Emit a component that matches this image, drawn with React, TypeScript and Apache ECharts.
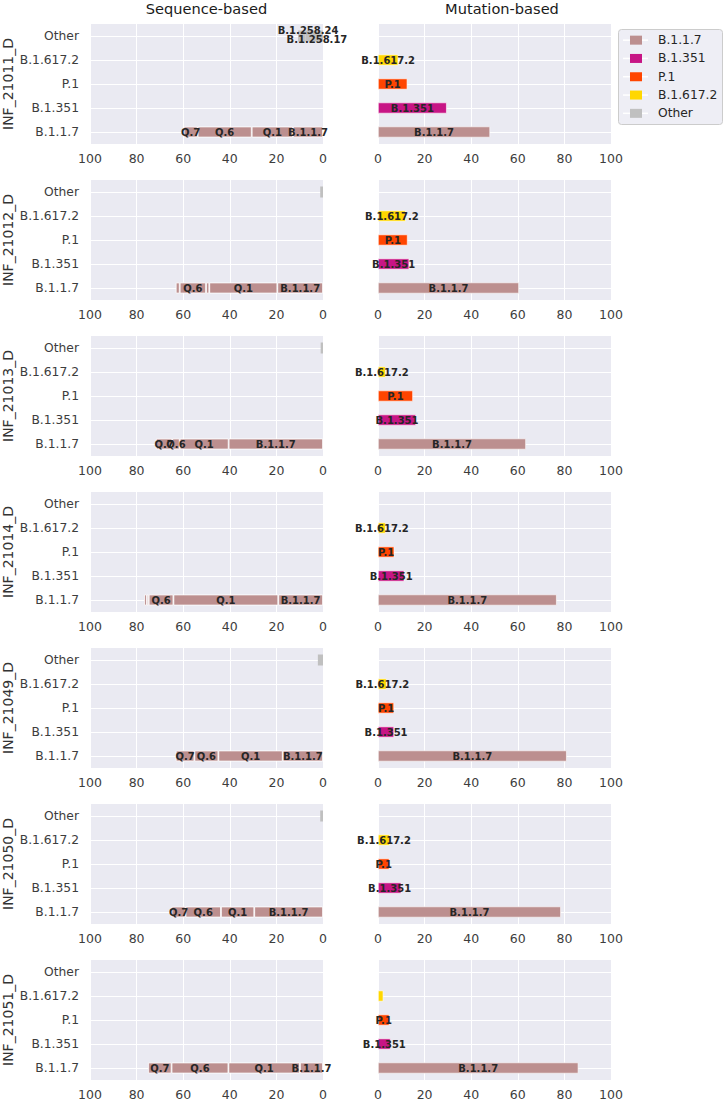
import React, { useEffect, useRef } from 'react';
import * as echarts from 'echarts';

// ---------- data ----------
const panelIds = ['INF_21011_D', 'INF_21012_D', 'INF_21013_D', 'INF_21014_D', 'INF_21049_D', 'INF_21050_D', 'INF_21051_D'];
const lineages = ['B.1.1.7', 'B.1.351', 'P.1', 'B.1.617.2', 'Other'];
const titles = ['Sequence-based', 'Mutation-based'];

// Mutation-based percentages per panel
const mutB117 = [48.1, 60.5, 63.5, 76.7, 81.0, 78.5, 86.0];
const mutB1351 = [29.5, 13.4, 16.3, 11.3, 6.9, 10.0, 5.4];
const mutP1 = [12.6, 12.7, 15.0, 7.0, 6.9, 4.9, 4.9];
const mutB16172 = [8.7, 11.9, 3.3, 3.3, 3.7, 5.1, 2.3];
const mutOther = [0, 0, 0, 0, 0, 0, 0];

// Sequence-based segments on the B.1.1.7 row, [sub-lineage, percent], '' = too small to label
const seqB117Rows: [string, number][][] = [
  [['B.1.1.7', 12.9], ['Q.1', 17.7], ['Q.6', 23.2], ['Q.7', 6.0]],
  [['B.1.1.7', 19.6], ['Q.1', 29.2], ['', 1.4], ['Q.6', 11.3], ['', 1.7]],
  [['B.1.1.7', 40.5], ['Q.1', 21.0], ['Q.6', 3.2], ['Q.7', 7.0]],
  [['B.1.1.7', 19.2], ['Q.1', 45.0], ['Q.6', 10.6], ['', 0.8], ['', 1.2]],
  [['B.1.1.7', 17.3], ['Q.1', 27.6], ['Q.6', 10.3], ['Q.7', 8.0]],
  [['B.1.1.7', 29.5], ['Q.1', 14.3], ['Q.6', 15.2], ['Q.7', 6.0]],
  [['B.1.1.7', 9.9], ['Q.1', 30.7], ['Q.6', 24.4], ['Q.7', 10.1]],
];
// Sequence-based segments on the Other row
const seqOtherRows: [string, number][][] = [
  [['B.1.258.17', 5.2], ['B.1.258.24', 2.4], ['', 3.1]],
  [['', 1.2]],
  [['', 1.0]],
  [],
  [['', 2.2]],
  [['', 1.2]],
  [],
];

// ---------- styles ----------
const FONT = 'DejaVu Sans';
const colorOf: Record<string, string> = {
  'B.1.1.7': '#BC8F8F',
  'B.1.351': '#C71585',
  'P.1': '#FF4500',
  'B.1.617.2': '#FFD700',
  Other: '#C0C0C0',
};
const labelOffsets: Record<string, number[]> = {
  'B.1.258.17': [0, 3.5],
  'B.1.258.24': [0, -5.5],
};
const LABEL_MIN = 3;
const GRID_TOP0 = 24;
const GRID_PITCH = 156;
const GRID_H = 120;
const GRID_W = 233;
const LEFT_X = 90;
const RIGHT_X = 378;

function buildOption() {
  const grid: any[] = [];
  const xAxis: any[] = [];
  const yAxis: any[] = [];
  const series: any[] = [];

  const labelStyle = {
    position: 'inside',
    color: '#262626',
    fontSize: 10,
    fontWeight: 'bold',
    fontFamily: FONT,
  };
  const markLine = {
    silent: true,
    symbol: 'none',
    z: 1,
    label: { show: false },
    lineStyle: { color: '#ffffff', width: 1, type: 'solid' },
    emphasis: { disabled: true },
    data: lineages.map((c) => ({ yAxis: c })),
  };

  panelIds.forEach((pid, p) => {
    const top = GRID_TOP0 + GRID_PITCH * p;
    [0, 1].forEach((side) => {
      const gi = p * 2 + side;
      const isLeft = side === 0;
      grid.push({
        left: isLeft ? LEFT_X : RIGHT_X,
        top,
        width: GRID_W,
        height: GRID_H,
        show: true,
        backgroundColor: '#EAEAF2',
        borderWidth: 0,
      });
      xAxis.push({
        gridIndex: gi,
        type: 'value',
        min: 0,
        max: 100,
        interval: 20,
        inverse: isLeft,
        axisLine: { show: false },
        axisTick: { show: false },
        splitLine: { show: true, lineStyle: { color: '#ffffff', width: 1 } },
        axisLabel: {
          fontSize: 12.5,
          color: '#3d3d3d',
          margin: 8,
          fontFamily: FONT,
          showMinLabel: true,
          showMaxLabel: true,
        },
      });
      yAxis.push({
        gridIndex: gi,
        type: 'category',
        data: lineages,
        axisLine: { show: false },
        axisTick: { show: false },
        splitLine: { show: false },
        axisLabel: { show: isLeft, interval: 0, fontSize: 12.3, color: '#3d3d3d', margin: 11, fontFamily: FONT },
        name: isLeft ? pid : '',
        nameLocation: 'middle',
        nameRotate: 90,
        nameGap: 75,
        nameTextStyle: { fontSize: 14, color: '#333333', fontFamily: FONT },
      });
    });

    // left: sequence-based stacked segments
    const gl = p * 2;
    let first = true;
    const addSeg = (row: string, seg: [string, number]) => {
      const [nm, w] = seg;
      const s: any = {
        type: 'bar',
        name: nm || 'minor',
        xAxisIndex: gl,
        yAxisIndex: gl,
        stack: 'seq' + p,
        barWidth: 11,
        data: lineages.map((c) => (c === row ? w : '-')),
        itemStyle: {
          color: colorOf[row],
          borderColor: '#ffffff',
          borderWidth: row === 'Other' ? 0 : 0.8,
        },
        label: {
          ...labelStyle,
          show: nm !== '',
          formatter: () => nm,
          offset: labelOffsets[nm] || [0, 0],
        },
        emphasis: { disabled: true },
      };
      if (first) {
        s.markLine = markLine;
        first = false;
      }
      series.push(s);
    };
    seqB117Rows[p].forEach((seg) => addSeg('B.1.1.7', seg));
    seqOtherRows[p].forEach((seg) => addSeg('Other', seg));

    // right: mutation-based
    const gr = p * 2 + 1;
    const mutVals: Record<string, number> = {
      'B.1.1.7': mutB117[p],
      'B.1.351': mutB1351[p],
      'P.1': mutP1[p],
      'B.1.617.2': mutB16172[p],
      Other: mutOther[p],
    };
    lineages.forEach((L, li) => {
      const v = mutVals[L];
      const s: any = {
        type: 'bar',
        name: L,
        xAxisIndex: gr,
        yAxisIndex: gr,
        stack: 'mut' + p,
        barWidth: 11,
        data: lineages.map((c) => (c === L && v > 0 ? v : '-')),
        itemStyle: { color: colorOf[L], borderColor: '#ffffff', borderWidth: 0.6 },
        label: { ...labelStyle, show: v >= LABEL_MIN, formatter: () => L },
        emphasis: { disabled: true },
      };
      if (li === 0) s.markLine = markLine;
      series.push(s);
    });
  });

  // legend frame and handle lines
  const legTop = 31;
  const legRow = 18.3;
  const graphic: any[] = [
    {
      type: 'text',
      x: LEFT_X + GRID_W / 2,
      y: 1,
      style: { text: titles[0], align: 'center', verticalAlign: 'top', fontSize: 14.6, fontFamily: FONT, fill: '#1a1a1a' },
    },
    {
      type: 'text',
      x: 502,
      y: 1,
      style: { text: titles[1], align: 'center', verticalAlign: 'top', fontSize: 14.6, fontFamily: FONT, fill: '#1a1a1a' },
    },
    {
      type: 'rect',
      z: 3,
      shape: { x: 618.5, y: 29.5, width: 104, height: 95, r: 3 },
      style: { fill: '#EEEEF5', stroke: '#CCCCCC', lineWidth: 1 },
    },
  ];
  lineages.forEach((_, i) => {
    const y = legTop + legRow * i + legRow / 2;
    graphic.push({
      type: 'line',
      z: 3,
      shape: { x1: 623, y1: y, x2: 648, y2: y },
      style: { stroke: '#ffffff', lineWidth: 1.5 },
    });
  });

  return {
    animation: false,
    backgroundColor: '#ffffff',
    textStyle: { fontFamily: FONT },
    grid,
    xAxis,
    yAxis,
    series,
    graphic,
    legend: {
      data: lineages,
      orient: 'vertical',
      left: 630,
      top: legTop,
      padding: 0,
      itemGap: 0,
      itemWidth: 12,
      itemHeight: 9,
      icon: 'rect',
      selectedMode: false,
      z: 5,
      itemStyle: { borderWidth: 0 },
      textStyle: { fontSize: 12.3, color: '#262626', fontFamily: FONT, lineHeight: legRow, padding: [0, 0, 0, 11] },
    },
  };
}

export default function App() {
  const ref = useRef<HTMLDivElement>(null);
  useEffect(() => {
    document.body.style.margin = '0';
    if (!ref.current) return;
    const chart = echarts.init(ref.current, null, { renderer: 'svg' });
    chart.setOption(buildOption() as any);
    return () => chart.dispose();
  }, []);
  return <div ref={ref} style={{ width: 726, height: 1102 }} />;
}
